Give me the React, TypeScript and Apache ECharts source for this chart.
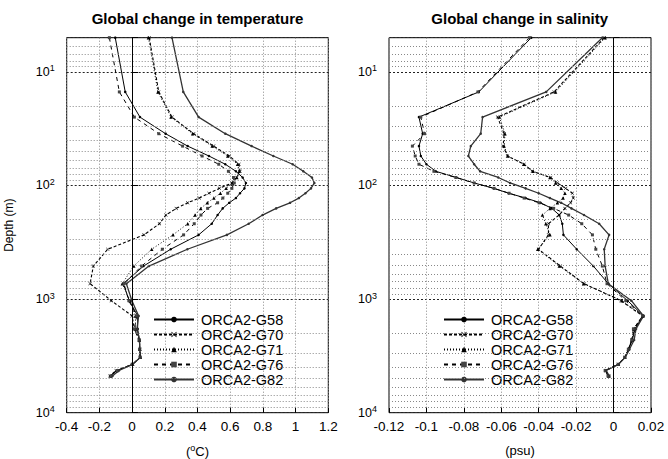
import React, { useEffect, useRef } from "react";
import * as echarts from "echarts";

// Depth levels (m)
const depths = [5, 15, 25, 35, 45, 55, 65, 75, 85, 95, 106, 117, 129, 142, 159, 182, 217, 272, 364, 512, 732, 1033, 1406, 1831, 2290, 2768, 3257, 3752, 4250, 4750];

const seriesNames = ["ORCA2-G58", "ORCA2-G70", "ORCA2-G71", "ORCA2-G76", "ORCA2-G82"];

// Temperature change (°C)
const tempG58 = [-0.103, -0.042, 0.048, 0.205, 0.34, 0.47, 0.57, 0.635, 0.676, 0.696, 0.687, 0.66, 0.635, 0.594, 0.554, 0.523, 0.487, 0.407, 0.236, 0.07, -0.054, -0.017, 0.034, 0.034, 0.044, 0.048, 0.05, 0.004, -0.094, -0.135];
const tempG70 = [0.105, 0.163, 0.244, 0.377, 0.499, 0.595, 0.654, 0.66, 0.64, 0.61, 0.534, 0.47, 0.411, 0.34, 0.27, 0.207, 0.167, 0.073, -0.149, -0.237, -0.257, -0.127, 0.0, 0.014, 0.044, 0.048, 0.05, 0.004, -0.098, -0.135];
const tempG71 = [0.1, 0.158, 0.238, 0.37, 0.49, 0.585, 0.645, 0.655, 0.64, 0.612, 0.575, 0.54, 0.5, 0.46, 0.42, 0.385, 0.34, 0.25, 0.12, 0.01, -0.06, -0.012, 0.02, 0.022, 0.044, 0.047, 0.05, 0.003, -0.09, -0.13];
const tempG76 = [-0.139, -0.078, 0.014, 0.163, 0.309, 0.428, 0.53, 0.589, 0.62, 0.625, 0.61, 0.585, 0.555, 0.523, 0.462, 0.421, 0.38, 0.315, 0.185, 0.058, -0.05, -0.02, 0.028, 0.014, 0.042, 0.046, 0.048, 0.0, -0.09, -0.13];
const tempG82 = [0.244, 0.313, 0.407, 0.57, 0.731, 0.864, 0.982, 1.047, 1.1, 1.115, 1.094, 1.06, 1.02, 0.966, 0.881, 0.798, 0.713, 0.58, 0.338, 0.103, -0.035, -0.001, 0.04, 0.03, 0.046, 0.047, 0.05, 0.004, -0.08, -0.12];

// Salinity change (psu)
const salG58 = [-0.044, -0.072, -0.104, -0.102, -0.104, -0.103, -0.1, -0.095, -0.084, -0.0745, -0.064, -0.056, -0.047, -0.039, -0.033, -0.029, -0.0274, -0.0268, -0.0197, -0.0108, -0.0028, 0.0075, 0.016, 0.0115, 0.01, 0.008, 0.006, 0.0026, -0.0042, -0.0025];
const salG70 = [-0.005, -0.0318, -0.062, -0.0585, -0.059, -0.0567, -0.0478, -0.0434, -0.0336, -0.03, -0.0256, -0.022, -0.0215, -0.023, -0.026, -0.0291, -0.0348, -0.0348, -0.0401, -0.0284, -0.0158, 0.004, 0.0155, 0.011, 0.0097, 0.008, 0.006, 0.0025, -0.0042, -0.0025];
const salG71 = [-0.0045, -0.031, -0.061, -0.058, -0.0585, -0.0565, -0.048, -0.043, -0.034, -0.031, -0.028, -0.026, -0.027, -0.03, -0.034, -0.038, -0.0362, -0.034, -0.0405, -0.029, -0.016, 0.0045, 0.0157, 0.0108, 0.0098, 0.0079, 0.006, 0.0026, -0.0043, -0.0026];
const salG76 = [-0.045, -0.0725, -0.103, -0.101, -0.1075, -0.106, -0.104, -0.096, -0.0843, -0.0745, -0.0638, -0.0558, -0.0478, -0.0398, -0.032, -0.024, -0.017, -0.0113, -0.0095, -0.006, -0.0035, 0.0065, 0.0155, 0.0106, 0.0097, 0.0079, 0.006, 0.0025, -0.0045, -0.003];
const salG82 = [-0.006, -0.036, -0.07, -0.071, -0.0763, -0.0776, -0.0745, -0.0713, -0.0616, -0.0553, -0.047, -0.04, -0.034, -0.028, -0.0225, -0.0158, -0.0077, -0.0024, -0.005, -0.0045, -0.0028, 0.0095, 0.016, 0.012, 0.011, 0.0085, 0.0062, 0.0027, -0.004, -0.0022];

// Minor log grid depths
const minorDepths = [6, 7, 8, 9, 20, 30, 40, 50, 60, 70, 80, 90, 200, 300, 400, 500, 600, 700, 800, 900, 2000, 3000, 4000, 5000, 6000, 7000, 8000, 9000];

const FONT = "'Liberation Sans', Arial, Helvetica, sans-serif";

const crossPath = "path://M0,1L1,0L5,4L9,0L10,1L6,5L10,9L9,10L5,6L1,10L0,9L4,5Z";

const styles: Record<string, any> = {
  "ORCA2-G58": { lineStyle: { color: "#000", width: 1, type: "solid" }, symbol: "circle", symbolSize: 2.5, itemStyle: { color: "#000" } },
  "ORCA2-G70": { lineStyle: { color: "#000", width: 1.1, type: [3, 2] }, symbol: crossPath, symbolSize: 3.5, itemStyle: { color: "#000" } },
  "ORCA2-G71": { lineStyle: { color: "#000", width: 1, type: [1, 2] }, symbol: "triangle", symbolSize: 3.5, itemStyle: { color: "#000" } },
  "ORCA2-G76": { lineStyle: { color: "#000", width: 1, type: [4, 4] }, symbol: "rect", symbolSize: 3, itemStyle: { color: "#444" } },
  "ORCA2-G82": { lineStyle: { color: "#333", width: 1.3, type: "solid" }, symbol: "circle", symbolSize: 2.5, itemStyle: { color: "#333" } },
};

const tempSets = [tempG58, tempG70, tempG71, tempG76, tempG82];
const salSets = [salG58, salG70, salG71, salG76, salG82];

function yLabel(v: number) {
  const l = Math.log10(v);
  const r = Math.round(l);
  if (Math.abs(l - r) > 1e-6) return "";
  return "{b|10}{s|" + r + "}";
}

export default function App() {
  const ref = useRef<HTMLDivElement>(null);
  useEffect(() => {
    if (!ref.current) return;
    const chart = echarts.init(ref.current, null, { renderer: "svg" });

    const grids = [
      { left: 66.7, top: 37.7, width: 261.6, height: 375 },
      { left: 389, top: 37.7, width: 262, height: 375 },
    ];

    const yAxisBase = (gi: number) => ({
      type: "log",
      gridIndex: gi,
      min: 5,
      max: 10000,
      inverse: true,
      axisLine: { show: false },
      axisTick: { show: true, inside: true, length: 6, lineStyle: { color: "#000" } },
      axisLabel: {
        formatter: yLabel,
        margin: 12,
        rich: {
          b: { fontSize: 12.5, fontFamily: FONT, color: "#000" },
          s: { fontSize: 9, fontFamily: FONT, color: "#000", verticalAlign: "bottom", padding: [0, 0, 7, 0] },
        },
      },
      splitLine: { show: true, lineStyle: { color: "#222", type: [2, 2], width: 1 } },
      name: gi === 0 ? "Depth (m)" : "",
      nameLocation: "middle",
      nameGap: 52,
      nameTextStyle: { fontSize: 12, fontFamily: FONT, color: "#000" },
    });

    const xAxisBase = (gi: number, min: number, max: number, interval: number, name: string) => ({
      type: "value",
      gridIndex: gi,
      min,
      max,
      interval,
      axisLine: { show: false },
      axisTick: { show: true, inside: true, length: 5, lineStyle: { color: "#000" } },
      axisLabel: { fontSize: 13.5, fontFamily: FONT, color: "#000", margin: 7 },
      splitLine: { show: true, lineStyle: { color: "#888", type: [1, 2], width: 1 } },
      name,
      nameLocation: "middle",
      nameGap: 31,
      nameTextStyle: {
        fontSize: 13,
        fontFamily: FONT,
        color: "#000",
        rich: {
          n: { fontSize: 13, fontFamily: FONT, color: "#000" },
          s: { fontSize: 9, fontFamily: FONT, color: "#000", verticalAlign: "bottom", padding: [0, 0, 6, 0] },
        },
      },
    });

    const gridSeries = (gi: number) => ({
      type: "line",
      name: "grid" + gi,
      xAxisIndex: gi,
      yAxisIndex: gi,
      data: [[0, 100]],
      showSymbol: false,
      symbol: "none",
      lineStyle: { opacity: 0 },
      silent: true,
      z: 1,
      markLine: {
        silent: true,
        symbol: ["none", "none"],
        label: { show: false },
        animation: false,
        lineStyle: { color: "#888", type: [1, 2], width: 1 },
        data: [
          ...minorDepths.map((d) => ({ yAxis: d })),
          { xAxis: 0, lineStyle: { color: "#000", type: "solid", width: 1 } },
        ],
      },
    });

    const dataSeries = (sets: number[][], gi: number) =>
      seriesNames.map((name, k) => ({
        type: "line",
        name,
        xAxisIndex: gi,
        yAxisIndex: gi,
        data: sets[k].map((v, i) => [v, depths[i]]),
        showSymbol: true,
        z: 3,
        ...styles[name],
      }));

    const legendBase = (left: number) => ({
      data: seriesNames,
      orient: "vertical",
      left,
      top: 312,
      padding: 0,
      itemWidth: 40,
      itemHeight: 7,
      itemGap: 0,
      selectedMode: false,
      textStyle: { fontSize: 14.5, fontFamily: FONT, color: "#000", lineHeight: 14.5, padding: [0, 0, 0, 2] },
    });

    chart.setOption({
      animation: false,
      backgroundColor: "#fff",
      grid: grids.map((g) => ({ ...g, show: true, borderColor: "#000", borderWidth: 1, backgroundColor: "transparent", containLabel: false, outerBoundsMode: "none" })),
      xAxis: [
        xAxisBase(0, -0.4, 1.2, 0.2, "({s|o}C)"),
        xAxisBase(1, -0.12, 0.02, 0.02, "(psu)"),
      ],
      yAxis: [yAxisBase(0), yAxisBase(1)],
      legend: [legendBase(153), legendBase(443)],
      graphic: [
        { type: "text", x: 197.5, y: 18, style: { text: "Global change in temperature", fontSize: 15, fontWeight: "bold", fontFamily: FONT, fill: "#000", align: "center", verticalAlign: "middle" } },
        { type: "text", x: 519.7, y: 18, style: { text: "Global change in salinity", fontSize: 15, fontWeight: "bold", fontFamily: FONT, fill: "#000", align: "center", verticalAlign: "middle" } },
      ],
      series: [gridSeries(0), gridSeries(1), ...dataSeries(tempSets, 0), ...dataSeries(salSets, 1)],
    });

    return () => chart.dispose();
  }, []);

  return <div ref={ref} style={{ position: "fixed", left: 0, top: 0, width: 668, height: 459 }} />;
}
